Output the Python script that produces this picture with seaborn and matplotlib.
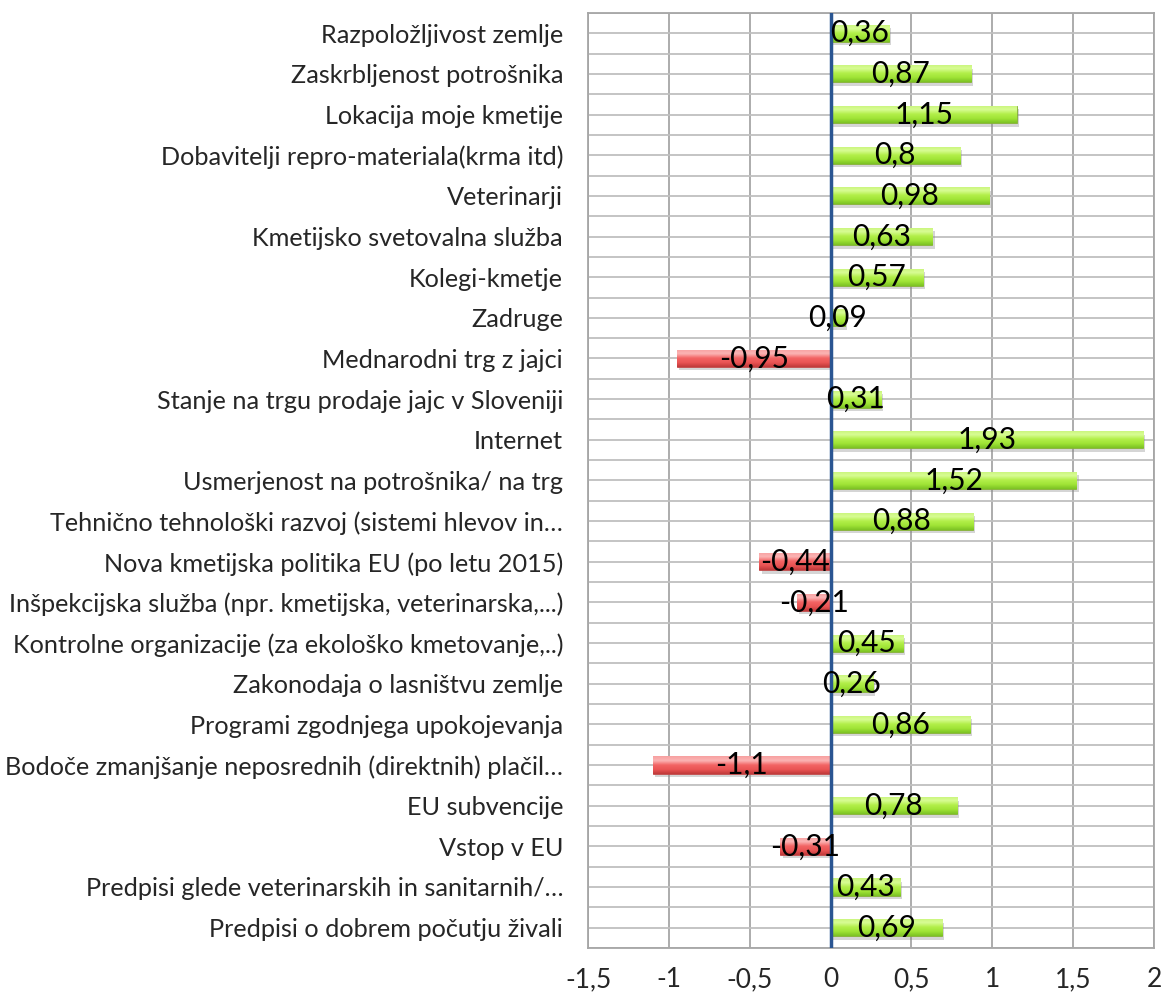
import numpy as np
import pandas as pd
import matplotlib
matplotlib.use("Agg")
import matplotlib.pyplot as plt
import matplotlib.patheffects as pe
from matplotlib.colors import LinearSegmentedColormap
import seaborn as sns

labels = [
    "Razpoložljivost zemlje",
    "Zaskrbljenost potrošnika",
    "Lokacija moje kmetije",
    "Dobavitelji repro-materiala(krma itd)",
    "Veterinarji",
    "Kmetijsko svetovalna služba",
    "Kolegi-kmetje",
    "Zadruge",
    "Mednarodni trg z jajci",
    "Stanje na trgu prodaje jajc v Sloveniji",
    "Internet",
    "Usmerjenost na potrošnika/ na trg",
    "Tehnično tehnološki razvoj (sistemi hlevov in…",
    "Nova kmetijska politika EU (po letu 2015)",
    "Inšpekcijska služba (npr. kmetijska, veterinarska,...)",
    "Kontrolne organizacije (za ekološko kmetovanje,..)",
    "Zakonodaja o lasništvu zemlje",
    "Programi zgodnjega upokojevanja",
    "Bodoče zmanjšanje neposrednih (direktnih) plačil…",
    "EU subvencije",
    "Vstop v EU",
    "Predpisi glede veterinarskih in sanitarnih/…",
    "Predpisi o dobrem počutju živali",
]
values = [0.36, 0.87, 1.15, 0.8, 0.98, 0.63, 0.57, 0.09, -0.95, 0.31, 1.93, 1.52,
          0.88, -0.44, -0.21, 0.45, 0.26, 0.86, -1.1, 0.78, -0.31, 0.43, 0.69]
x_ticks = [-1.5, -1, -0.5, 0, 0.5, 1, 1.5, 2]

df = pd.DataFrame({"label": labels, "value": values})
df["sign"] = np.where(df["value"] >= 0, "pos", "neg")

sns.set_style("white")
plt.rcParams["font.family"] = ["Lato", "DejaVu Sans"]

fig = plt.figure(figsize=(11.63, 9.94), dpi=100)
ax = fig.add_axes([0.5056, 0.0463, 0.4867, 0.9407])

sns.barplot(data=df, y="label", x="value", hue="sign", orient="h", dodge=False,
            palette={"pos": "#a8ea3c", "neg": "#ee5656"}, width=0.42,
            legend=False, ax=ax, zorder=3)

# gradient fill like the excel 3d bars
green_cm = LinearSegmentedColormap.from_list("g", ["#c8f47a", "#d8fc94", "#b2ef4a", "#a0e436", "#7cc224"])
red_cm = LinearSegmentedColormap.from_list("r", ["#f7a0a0", "#fbb4b4", "#f26464", "#ea5454", "#c03a3a"])
grad = np.linspace(0, 1, 64).reshape(-1, 1)
for p in ax.patches:
    if p.get_width() == 0:
        continue
    pos = p.get_facecolor()[1] > 0.6
    x0, y0 = p.get_x(), p.get_y()
    w, h = p.get_width(), p.get_height()
    p.set_edgecolor("#84b034" if pos else "#c04848")
    p.set_linewidth(0.6)
    p.set_path_effects([pe.withSimplePatchShadow(offset=(1.5, -2.5), shadow_rgbFace="#888888", alpha=0.35)])
    im = ax.imshow(grad, cmap=green_cm if pos else red_cm, aspect="auto",
                   extent=[x0, x0 + w, y0 + h, y0], zorder=3.5, interpolation="bilinear")
    im.set_clip_path(p)

for i, v in enumerate(values):
    ax.text(v / 2, i, str(v).replace(".", ","), ha="center", va="center",
            fontsize=21.5, color="black", zorder=5)

ax.set_xlim(-1.5, 2)
ax.set_ylim(22.5, -0.5)
ax.set_xticks(x_ticks)
ax.set_xticklabels([str(t).replace(".", ",") for t in x_ticks], fontsize=19)
ax.set_yticks(range(len(labels)))
ax.set_yticklabels(labels, fontsize=18.2)
ax.set_yticks(np.arange(-0.5, 23, 1.0), minor=True)
ax.tick_params(axis="y", which="both", length=0, pad=18)
ax.tick_params(axis="x", length=5, color="#888888", pad=9)
ax.grid(axis="x", color="#a6a6a6", linewidth=1.3, zorder=0)
ax.grid(axis="y", which="both", color="#bfbfbf", linewidth=1.3, zorder=0)
ax.set_axisbelow(True)
ax.axvline(0, color="#2a5592", linewidth=2.5, zorder=4)
for side in ["top", "right", "left", "bottom"]:
    ax.spines[side].set_color("#a6a6a6")
    ax.spines[side].set_linewidth(1.3)
ax.set_xlabel("")
ax.set_ylabel("")

plt.savefig("out.png", dpi=100)
